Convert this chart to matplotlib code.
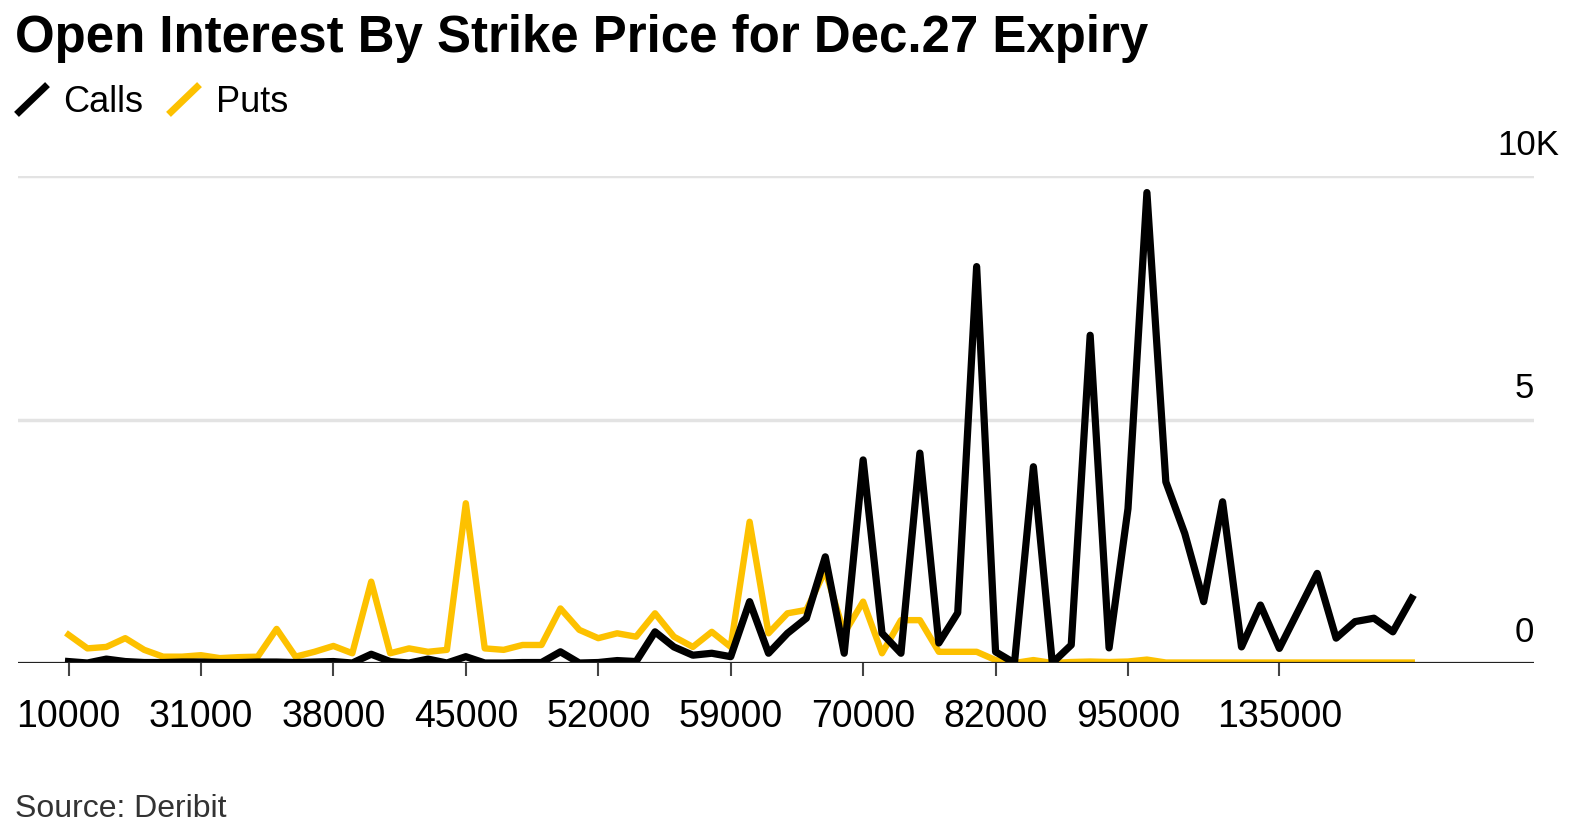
import matplotlib.pyplot as plt
from matplotlib.lines import Line2D
import numpy as np

plt.rcParams['font.family'] = ['Liberation Sans', 'DejaVu Sans']

# strike prices (categories)
strikes = [10000, 15000, 20000, 25000, 26000, 28000, 30000,
           31000, 32000, 33000, 34000, 35000, 36000, 37000,
           38000, 39000, 40000, 41000, 42000, 43000, 44000,
           45000, 46000, 47000, 48000, 49000, 50000, 51000,
           52000, 53000, 54000, 55000, 56000, 57000, 58000,
           59000, 60000, 62000, 64000, 65000, 66000, 68000,
           70000, 72000, 74000, 75000, 76000, 78000, 80000,
           82000, 84000, 85000, 86000, 88000, 90000, 92000,
           95000, 100000, 105000, 110000, 115000, 120000, 125000, 130000,
           135000, 140000, 150000, 160000, 170000, 180000, 190000, 200000]

# open interest, thousands of contracts
calls = [0.03, 0.00, 0.08, 0.03, 0.01, 0.01, 0.02,
         0.02, 0.01, 0.01, 0.02, 0.02, 0.01, 0.02,
         0.03, 0.00, 0.18, 0.03, 0.00, 0.08, 0.00,
         0.13, 0.00, 0.00, 0.01, 0.01, 0.23, 0.00,
         0.01, 0.05, 0.03, 0.64, 0.33, 0.16, 0.20,
         0.13, 1.26, 0.20, 0.61, 0.92, 2.18, 0.20,
         4.17, 0.61, 0.20, 4.31, 0.41, 1.03, 8.14,
         0.23, 0.00, 4.03, 0.00, 0.37, 6.73, 0.31,
         3.17, 9.66, 3.72, 2.66, 1.26, 3.31, 0.33, 1.19,
         0.30, 1.07, 1.84, 0.51, 0.85, 0.92, 0.64, 1.33]

puts = [0.58, 0.30, 0.33, 0.51, 0.27, 0.13, 0.13,
        0.16, 0.10, 0.12, 0.13, 0.70, 0.13, 0.23,
        0.35, 0.20, 1.67, 0.20, 0.30, 0.23, 0.27,
        3.28, 0.30, 0.27, 0.37, 0.37, 1.12, 0.68,
        0.51, 0.61, 0.54, 1.02, 0.54, 0.33, 0.64,
        0.33, 2.90, 0.61, 1.02, 1.09, 1.90, 0.61,
        1.26, 0.20, 0.88, 0.88, 0.23, 0.23, 0.23,
        0.06, 0.00, 0.06, 0.00, 0.02, 0.03, 0.02,
        0.03, 0.07, 0.01, 0.01, 0.01, 0.01, 0.01, 0.01,
        0.01, 0.01, 0.01, 0.01, 0.01, 0.01, 0.01, 0.01]

tick_strikes = [10000, 31000, 38000, 45000, 52000, 59000, 70000, 82000, 95000, 135000]

black = '#000000'
yellow = '#FDC100'
W, H = 1580, 835

fig = plt.figure(figsize=(W / 100, H / 100), dpi=100)
ax = fig.add_axes([18 / W, (H - 663) / H, (1534 - 18) / W, (663 - 176) / H])

x = np.arange(len(strikes))
ax.plot(x, puts, color=yellow, lw=4.6, solid_joinstyle='round', zorder=3)
ax.plot(x, calls, color=black, lw=5.2, solid_joinstyle='round', zorder=4)

ax.set_xlim(-2.67, 77.46)
ax.set_ylim(0, 10)

for s in ['top', 'right', 'left', 'bottom']:
    ax.spines[s].set_visible(False)
ax.axhline(0, color='#222222', lw=1.6, zorder=5)
for v in [5, 10]:
    ax.axhline(v, color='#e3e3e3', lw=2.5, zorder=1)

ax.set_yticks([])
ax.set_xticks([strikes.index(s) for s in tick_strikes])
ax.set_xticklabels([str(s) for s in tick_strikes], fontsize=27)
ax.tick_params(axis='x', length=9, width=1.5, color='#444444', pad=17)

for v, lab, dx in [(0, '0', 0), (5, '5', 0), (10, '10K', 25)]:
    ax.annotate(lab, xy=(1.0, v), xycoords=('axes fraction', 'data'),
                xytext=(dx, 21), textcoords='offset pixels',
                ha='right', va='baseline', fontsize=25)

fig.text(15 / W, 1 - 52 / H, 'Open Interest By Strike Price for Dec.27 Expiry',
         fontsize=36.7, fontweight='bold', va='baseline')

# legend
fig.add_artist(Line2D([19 / W, 45 / W], [1 - 112 / H, 1 - 87 / H], color=black, lw=5))
fig.text(63 / W, 1 - 112 / H, 'Calls', fontsize=26, va='baseline')
fig.add_artist(Line2D([171 / W, 197 / W], [1 - 112 / H, 1 - 87 / H], color=yellow, lw=5))
fig.text(216 / W, 1 - 112 / H, 'Puts', fontsize=26, va='baseline')

fig.text(15 / W, 1 - 817 / H, 'Source: Deribit', fontsize=23, color='#333333', va='baseline')

fig.savefig('out.png', dpi=100)
